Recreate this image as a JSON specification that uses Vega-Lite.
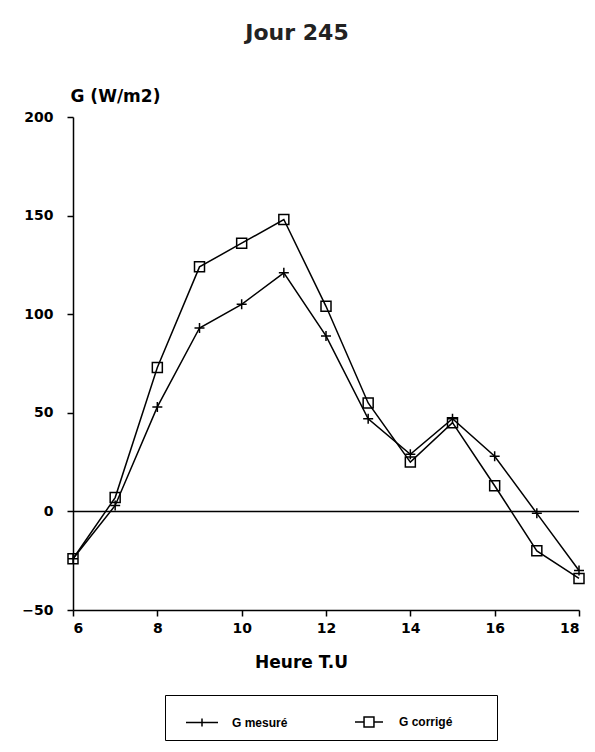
{
  "$schema": "https://vega.github.io/schema/vega-lite/v6.json",
  "width": 506,
  "height": 493,
  "autosize": {"type": "none"},
  "padding": {"left": 73, "top": 117, "right": 16, "bottom": 142},
  "background": "white",
  "title": {"text": "Jour 245", "font": "DejaVu Sans", "fontSize": 22, "fontWeight": "bold", "color": "#222", "dx": -29, "offset": 42},
  "config": {
    "view": {"stroke": null},
    "axis": {
      "domainColor": "black", "domainWidth": 1.5, "tickColor": "black", "tickWidth": 1.5, "tickSize": 6,
      "labelFont": "DejaVu Sans", "labelFontSize": 14, "labelFontWeight": "bold", "labelColor": "black",
      "titleFont": "DejaVu Sans", "titleFontSize": 17, "titleFontWeight": "bold", "titleColor": "black",
      "grid": false
    }
  },
  "resolve": {"scale": {"shape": "independent"}, "legend": {"shape": "independent"}},
  "datasets": {
    "pts": [
      {"hour": 6, "value": -24, "series": "G mesuré"},
      {"hour": 7, "value": 3, "series": "G mesuré"},
      {"hour": 8, "value": 53, "series": "G mesuré"},
      {"hour": 9, "value": 93, "series": "G mesuré"},
      {"hour": 10, "value": 105, "series": "G mesuré"},
      {"hour": 11, "value": 121, "series": "G mesuré"},
      {"hour": 12, "value": 89, "series": "G mesuré"},
      {"hour": 13, "value": 47, "series": "G mesuré"},
      {"hour": 14, "value": 29, "series": "G mesuré"},
      {"hour": 15, "value": 47, "series": "G mesuré"},
      {"hour": 16, "value": 28, "series": "G mesuré"},
      {"hour": 17, "value": -1, "series": "G mesuré"},
      {"hour": 18, "value": -30, "series": "G mesuré"},
      {"hour": 6, "value": -24, "series": "G corrigé"},
      {"hour": 7, "value": 7, "series": "G corrigé"},
      {"hour": 8, "value": 73, "series": "G corrigé"},
      {"hour": 9, "value": 124, "series": "G corrigé"},
      {"hour": 10, "value": 136, "series": "G corrigé"},
      {"hour": 11, "value": 148, "series": "G corrigé"},
      {"hour": 12, "value": 104, "series": "G corrigé"},
      {"hour": 13, "value": 55, "series": "G corrigé"},
      {"hour": 14, "value": 25, "series": "G corrigé"},
      {"hour": 15, "value": 45, "series": "G corrigé"},
      {"hour": 16, "value": 13, "series": "G corrigé"},
      {"hour": 17, "value": -20, "series": "G corrigé"},
      {"hour": 18, "value": -34, "series": "G corrigé"}
    ]
  },
  "layer": [
    {
      "data": {"values": [{"z": 0}]},
      "mark": {"type": "rule", "color": "black", "strokeWidth": 1.5},
      "encoding": {
        "y": {"field": "z", "type": "quantitative", "scale": {"domain": [-50, 200]}}
      }
    },
    {
      "data": {"name": "pts"},
      "mark": {"type": "line", "color": "black", "strokeWidth": 1.5},
      "encoding": {
        "x": {"field": "hour", "type": "quantitative", "scale": {"domain": [6, 18], "nice": false},
              "axis": {"values": [6, 8, 10, 12, 14, 16, 18], "title": "Heure T.U", "labelPadding": 5, "titlePadding": 19, "titleX": 228, "titleAlign": "center"}},
        "y": {"field": "value", "type": "quantitative", "scale": {"domain": [-50, 200], "nice": false},
              "axis": {"values": [-50, 0, 50, 100, 150, 200], "title": "G (W/m2)", "labelPadding": 14, "titleAngle": 0, "titleX": -3, "titleY": -12, "titleAlign": "left", "titleBaseline": "bottom"}},
        "detail": {"field": "series"}
      }
    },
    {
      "data": {"name": "pts"},
      "mark": {"type": "point", "filled": false, "color": "black", "strokeWidth": 1.5, "size": 100, "opacity": 1},
      "encoding": {
        "x": {"field": "hour", "type": "quantitative"},
        "y": {"field": "value", "type": "quantitative"},
        "shape": {
          "field": "series", "type": "nominal",
          "scale": {"domain": ["G mesuré", "G corrigé"], "range": ["M-1,0H1M0,-1V1", "square"]},
          "legend": null
        }
      }
    },
    {
      "data": {"name": "pts"},
      "transform": [{"filter": "datum.hour < 0"}],
      "mark": {"type": "point", "filled": false, "color": "black", "strokeWidth": 1.5, "opacity": 1},
      "encoding": {
        "shape": {
          "field": "series", "type": "nominal",
          "scale": {"domain": ["G mesuré", "G corrigé"], "range": ["M-1,0H1M0,-0.25V0.25", "M-0.875,0H-0.31M0.31,0H0.875M-0.31,-0.31H0.31V0.31H-0.31Z"]},
          "legend": {
            "orient": "none", "legendX": 92, "legendY": 578, "direction": "horizontal", "columns": 2,
            "title": " ", "titleOrient": "right", "titleFontSize": 10, "titlePadding": 35,
            "strokeColor": "black", "padding": 10, "fillColor": "white",
            "symbolSize": 1024, "symbolOffset": 10, "symbolStrokeColor": "black", "symbolStrokeWidth": 1.5, "symbolFillColor": "transparent",
            "labelFont": "Liberation Sans", "labelFontSize": 12, "labelFontWeight": "bold", "labelColor": "black", "labelOffset": 13,
            "columnPadding": 54,
            "encode": {
              "legend": {"update": {"strokeWidth": {"value": 1.5}}}
            }
          }
        }
      }
    }
  ]
}
